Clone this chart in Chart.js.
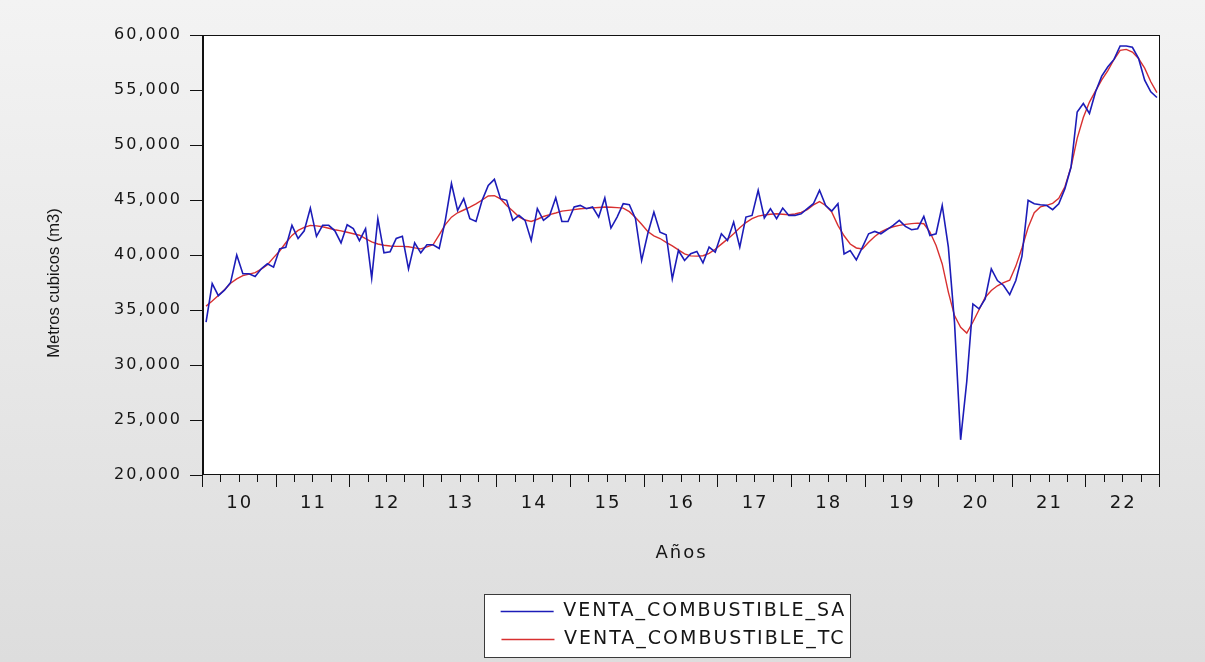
<!DOCTYPE html>
<html>
<head>
<meta charset="utf-8">
<script src="https://cdn.jsdelivr.net/npm/chart.js@4.4.1/dist/chart.umd.min.js"></script>
<style>
html,body{margin:0;padding:0;background:#e9e9e9;}
#wrap{width:1205px;height:662px;position:relative;}
canvas{display:block;}
</style>
</head>
<body>
<div id="wrap"><canvas id="c" width="1205" height="662"></canvas></div>
<script>
// ---- data (monthly, Jan 2010 .. Dec 2022) ----
const yearLabels = ['10','11','12','13','14','15','16','17','18','19','20','21','22'];
const seriesNames = ['VENTA_COMBUSTIBLE_SA', 'VENTA_COMBUSTIBLE_TC'];
const yTitle = 'Metros cubicos (m3)';
const xTitle = 'Años';

const ventaSA = [
  33900, 37400, 36300, 36800, 37500, 40000, 38300, 38300, 38050, 38750, 39200, 38900,
  40560, 40700, 42700, 41500, 42200, 44270, 41700, 42700, 42700, 42200, 41100, 42750,
  42400, 41300, 42400, 37900, 43300, 40200, 40300, 41500, 41700, 38740, 41100, 40200,
  40930, 40930, 40600, 43150, 46500, 44060, 45120, 43300, 43050, 44970, 46330, 46880,
  45120, 44970, 43150, 43600, 43150, 41330, 44210, 43150, 43600, 45210, 43050, 43050,
  44360, 44510, 44210, 44360, 43450, 45180, 42450, 43450, 44660, 44570, 43300, 39500,
  41930, 43900, 42080, 41840, 37830, 40410, 39500, 40110, 40320, 39290, 40720, 40260,
  41930, 41320, 42990, 40720, 43450, 43600, 45880, 43360, 44210, 43300, 44270, 43600,
  43600, 43750, 44210, 44660, 45880, 44500, 44000, 44670, 40100, 40410, 39560, 40720,
  41930, 42140, 41930, 42300, 42690, 43150, 42600, 42300, 42390, 43510, 41780, 41930,
  44510, 40720, 33900, 23200, 28500, 35550, 35100, 36010, 38740, 37680, 37230, 36400,
  37680, 39900, 44970, 44660, 44570, 44510, 44120, 44660, 46030, 48000, 53000, 53770,
  52860, 54840, 56260, 57115, 57780, 59000, 59000, 58880, 57880, 55900, 54840, 54320
];

const ventaTC = [
  35350, 35820, 36320, 36850, 37440, 37830, 38120, 38260, 38400, 38720, 39110, 39760,
  40370, 41110, 41780, 42240, 42520, 42690, 42650, 42570, 42430, 42300, 42190, 42070,
  41930, 41800, 41480, 41190, 41000, 40890, 40820, 40780, 40780, 40750, 40650, 40560,
  40740, 40930, 41840, 42760, 43440, 43840, 44090, 44350, 44640, 45000, 45370, 45400,
  45100, 44500, 44000, 43470, 43180, 43050, 43250, 43500, 43670, 43820, 43990, 44060,
  44130, 44200, 44240, 44280, 44320, 44360, 44340, 44310, 44260, 43940, 43400, 42790,
  42140, 41740, 41500, 41140, 40830, 40460, 40100, 39920, 39900, 39930, 40150, 40520,
  40990, 41440, 41930, 42480, 42950, 43300, 43540, 43640, 43700, 43750, 43700, 43660,
  43730, 43880, 44130, 44550, 44850, 44500, 43900, 42700, 41750, 41000, 40640, 40550,
  41150, 41680, 42100, 42380, 42570, 42690, 42780, 42850, 42900, 42840, 42090, 40870,
  39190, 36630, 34490, 33430, 32900, 33910, 35020, 36140, 36770, 37200, 37480, 37710,
  38990, 40630, 42500, 43840, 44370, 44510, 44700, 45150, 46200, 48000, 50600, 52500,
  53900, 54920, 55920, 56760, 57770, 58610, 58690, 58450, 57860, 56990, 55750, 54760
];

const yMin = 20000, yMax = 60000, yStep = 5000;
const monthsPerYear = 12;
const totalMonths = yearLabels.length * monthsPerYear;

// ---- styling ----
const FONT = 'DejaVu Sans';
const TEXT = '#161616';
const BLUE = '#1c1cb8';
const RED = '#d83030';
const LS = '2px';
const LEGEND_W = 440;

function toPoints(arr) { return arr.map((v, i) => ({x: i + 0.5, y: v})); }

const deco = {
  id: 'deco',
  beforeUpdate(chart) { chart.ctx.letterSpacing = LS; },
  beforeLayout(chart) {
    chart.ctx.letterSpacing = LS;
    const lg = chart.legend;
    if (lg && !lg._wrapPatched) {
      const orig = lg.update;
      lg.update = function (w, h, m) { return orig.call(this, Math.min(w, LEGEND_W), h, m); };
      lg._wrapPatched = true;
    }
  },
  afterLayout(chart) {
    const lg = chart.legend, a = chart.chartArea;
    if (!lg) return;
    const cx = (a.left + a.right) / 2 - 8;
    lg.left = cx - LEGEND_W / 2;
    lg.right = cx + LEGEND_W / 2;
    lg.width = LEGEND_W;
  },
  beforeDraw(chart) {
    const {ctx, width, height, chartArea: a} = chart;
    ctx.save();
    const g = ctx.createLinearGradient(0, 0, 0, height);
    g.addColorStop(0, '#f3f3f3');
    g.addColorStop(1, '#dddddd');
    ctx.fillStyle = g;
    ctx.fillRect(0, 0, width, height);
    ctx.fillStyle = '#ffffff';
    ctx.fillRect(a.left, a.top, a.width, a.height);
    // legend frame
    const hb = chart.legend && chart.legend.legendHitBoxes;
    if (hb && hb.length) {
      let l = Infinity, r = -Infinity, t = Infinity, b = -Infinity;
      hb.forEach(h => { l = Math.min(l, h.left); r = Math.max(r, h.left + h.width); t = Math.min(t, h.top); b = Math.max(b, h.top + h.height); });
      const x0 = Math.round(l - 17) + 0.5, x1 = Math.round(r + 4) + 0.5;
      const y0 = Math.round(t - 8) + 0.5, y1 = Math.round(b + 8) + 0.5;
      ctx.fillStyle = '#ffffff';
      ctx.fillRect(x0, y0, x1 - x0, y1 - y0);
      ctx.strokeStyle = '#3a3a3a';
      ctx.lineWidth = 1;
      ctx.strokeRect(x0, y0, x1 - x0, y1 - y0);
    }
    ctx.restore();
    ctx.letterSpacing = LS;
  },
  afterDraw(chart) {
    const {ctx, chartArea: a} = chart;
    const xs = chart.scales.x;
    ctx.save();
    ctx.letterSpacing = '0px';
    // plot frame
    ctx.strokeStyle = '#111';
    ctx.lineWidth = 1;
    ctx.strokeRect(a.left + 0.5, a.top + 0.5, a.width - 1, a.height - 1);
    ctx.beginPath();
    ctx.moveTo(a.left - 0.5, a.top); ctx.lineTo(a.left - 0.5, a.bottom);
    ctx.stroke();
    // x tick marks: year majors, quarter minors
    ctx.beginPath();
    for (let m = 0; m <= totalMonths; m += 3) {
      const px = Math.round(xs.getPixelForValue(m)) - 0.5;
      const len = (m % monthsPerYear === 0) ? 12 : 7;
      ctx.moveTo(px, a.bottom);
      ctx.lineTo(px, a.bottom + len);
    }
    ctx.stroke();
    // y axis title
    ctx.translate(54, 283);
    ctx.rotate(-Math.PI / 2);
    ctx.font = '16.5px "Liberation Sans"';
    ctx.fillStyle = TEXT;
    ctx.textAlign = 'center';
    ctx.textBaseline = 'middle';
    ctx.fillText(yTitle, 0, 0);
    ctx.restore();
  }
};

const ctx = document.getElementById('c').getContext('2d');
new Chart(ctx, {
  type: 'line',
  data: {
    datasets: [
      {label: seriesNames[0], data: toPoints(ventaSA), borderColor: BLUE, backgroundColor: BLUE,
       borderWidth: 1.6, pointRadius: 0, tension: 0, fill: false},
      {label: seriesNames[1], data: toPoints(ventaTC), borderColor: RED, backgroundColor: RED,
       borderWidth: 1.4, pointRadius: 0, tension: 0, fill: false}
    ]
  },
  options: {
    responsive: false,
    animation: false,
    devicePixelRatio: 1,
    layout: {padding: {top: 35, right: 45, left: 0, bottom: 3}},
    plugins: {
      legend: {
        position: 'bottom',
        fullSize: false,
        align: 'center',
        labels: {
          usePointStyle: true,
          pointStyle: 'line',
          pointStyleWidth: 53,
          padding: 9,
          color: TEXT,
          font: {family: FONT, size: 19}
        }
      },
      tooltip: {enabled: false}
    },
    scales: {
      x: {
        type: 'linear',
        min: 0,
        max: totalMonths,
        afterBuildTicks: (s) => { s.ticks = yearLabels.map((y, k) => ({value: k * monthsPerYear + monthsPerYear / 2})); },
        ticks: {
          autoSkip: false, maxRotation: 0, minRotation: 0,
          callback: (v, i) => yearLabels[i],
          color: TEXT, padding: 18,
          font: {family: FONT, size: 18}
        },
        grid: {display: false, drawTicks: false},
        border: {display: false},
        title: {display: true, text: xTitle, color: TEXT, font: {family: FONT, size: 18}, padding: {top: 0, bottom: 29}},
        afterFit: (s) => { s.height = 118; }
      },
      y: {
        min: yMin,
        max: yMax,
        ticks: {
          stepSize: yStep,
          color: TEXT,
          padding: 8,
          font: {family: FONT, size: 16},
          callback: (v) => Number(v).toLocaleString('en-US')
        },
        grid: {drawOnChartArea: false, drawTicks: true, tickLength: 13, color: '#111', tickColor: '#111'},
        border: {display: false},
        afterFit: (s) => { s.width = 203; }
      }
    }
  },
  plugins: [deco]
});
</script>
</body>
</html>
